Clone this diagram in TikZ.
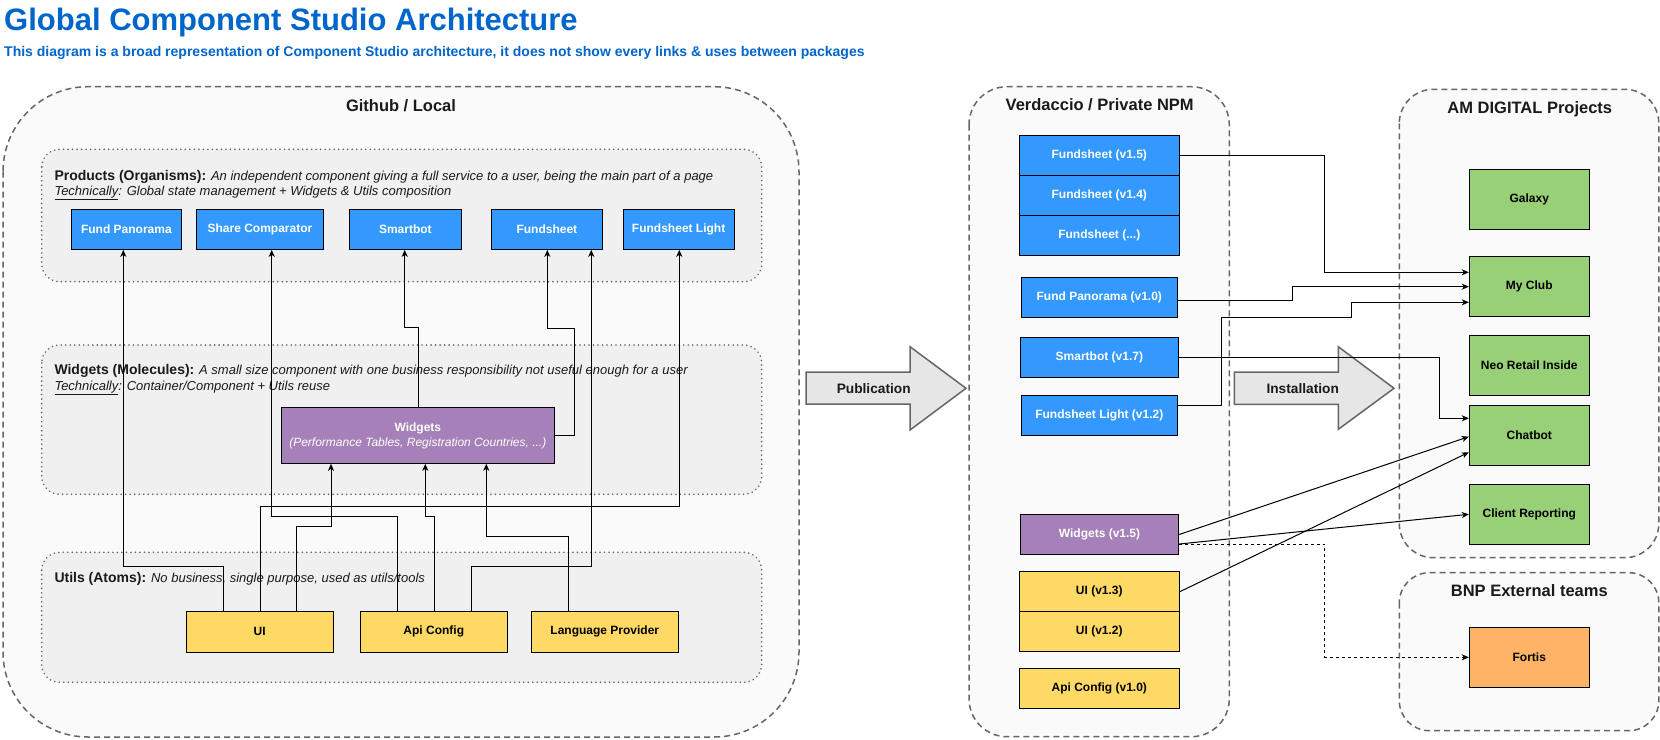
\documentclass[tikz,border=0pt]{standalone}
\usepackage{fontspec}
\setmainfont{Liberation Sans}
\usetikzlibrary{arrows.meta,calc}
\definecolor{ttl}{HTML}{0066CC}
\definecolor{bluef}{HTML}{3399FF}
\definecolor{purplef}{HTML}{A680B8}
\definecolor{yellowf}{HTML}{FFD966}
\definecolor{greenf}{HTML}{97D077}
\definecolor{orangef}{HTML}{FFB366}
\definecolor{panelf}{HTML}{F0F0F0}
\definecolor{contf}{HTML}{FAFAFA}
\definecolor{edgec}{HTML}{666666}
\definecolor{arrf}{HTML}{E6E6E6}
\definecolor{txt}{HTML}{1A1A1A}
\newcommand{\lhead}[1]{{\bfseries\fontsize{14}{15}\selectfont #1}}
\begin{document}
\begin{tikzpicture}[x=1pt,y=-1pt,
  container/.style={draw=edgec, fill=contf, line width=1.5pt, dash pattern=on 6pt off 4pt},
  panel/.style={draw=edgec, fill=panelf, line width=1.8pt, dash pattern=on 0.01pt off 4.5pt, line cap=round, rounded corners=18pt},
  box/.style={draw=black, line width=1pt, inner sep=0pt, align=center, font=\bfseries\fontsize{12}{15}\selectfont},
  bluebox/.style={box, fill=bluef, text=white},
  purplebox/.style={box, fill=purplef, text=white},
  yellowbox/.style={box, fill=yellowf, text=black},
  greenbox/.style={box, fill=greenf, text=black},
  orangebox/.style={box, fill=orangef, text=black},
  ctitle/.style={font=\bfseries\fontsize{16.5}{19}\selectfont, text=txt, anchor=base, inner sep=0pt},
  layert/.style={font=\fontsize{13}{15}\selectfont, text=txt, anchor=base west, inner sep=0pt},
  blockarrow/.style={draw=edgec, fill=arrf, line width=1.5pt, line join=miter},
  arrlabel/.style={font=\bfseries\fontsize{13.7}{16}\selectfont, text=txt, inner sep=0pt},
  conn/.style={draw=black, line width=1pt, -{Stealth[length=7pt,width=6pt,inset=2pt]}},
  dconn/.style={conn, dash pattern=on 3pt off 3pt}
]
\useasboundingbox (0,0) rectangle (1660,739);
\fill[white] (0,0) rectangle (1660,739);

% titles
\node[anchor=base west, inner sep=0pt, font=\bfseries\fontsize{31}{36}\selectfont, text=ttl] (title) at (4,30.7) {Global Component Studio Architecture};
\node[anchor=base west, inner sep=0pt, font=\bfseries\fontsize{14}{16}\selectfont, text=ttl] (subtitle) at (4,56.7) {This diagram is a broad representation of Component Studio architecture, it does not show every links \& uses between packages};

% containers
\draw[container, rounded corners=85pt] (3,86.7) rectangle (799,737);
\draw[container, rounded corners=38pt] (969,86.7) rectangle (1229.3,736.7);
\draw[container, rounded corners=34pt] (1399.3,89.3) rectangle (1658.8,557.7);
\draw[container, rounded corners=30pt] (1399.3,572.7) rectangle (1658.8,730.7);
\node[ctitle] (gh) at (401,111) {Github / Local};
\node[ctitle] (verd) at (1099.7,110.7) {Verdaccio / Private NPM};
\node[ctitle] (amd) at (1529.8,113.3) {AM DIGITAL Projects};
\node[ctitle] (bnp) at (1529.3,596.7) {BNP External teams};

% panels
\draw[panel] (41.7,149.3) rectangle (761.7,281.7);
\draw[panel] (41.7,345) rectangle (761.7,494.3);
\draw[panel] (41.7,552.3) rectangle (761.7,682.3);
\node[layert] (pt1) at (54.3,180) {\lhead{Products (Organisms):} \textit{An independent component giving a full service to a user, being the main part of a page}};
\node[layert] (pt2) at (54.3,195) {\itshape\underline{Technically}: Global state management + Widgets \& Utils composition};
\node[layert] (wt1) at (54.3,374) {\lhead{Widgets (Molecules):} \textit{A small size component with one business responsibility not useful enough for a user}};
\node[layert] (wt2) at (54.3,390) {\itshape\underline{Technically}: Container/Component + Utils reuse};
\node[layert] (ut1) at (54.3,582.3) {\lhead{Utils (Atoms):} \textit{No business, single purpose, used as utils/tools}};

% block arrows
\draw[blockarrow] (806,372) -- (910,372) -- (910,346.7) -- (966,388.3) -- (910,430) -- (910,404) -- (806,404) -- cycle;
\node[arrlabel] (pub) at (873.7,388.3) {Publication};
\draw[blockarrow] (1234.3,372) -- (1338.3,372) -- (1338.3,346.7) -- (1394,388.3) -- (1338.3,429.3) -- (1338.3,404.3) -- (1234.3,404.3) -- cycle;
\node[arrlabel] (inst) at (1302.7,388.3) {Installation};

% product boxes
\node[bluebox, minimum width=110.7pt, minimum height=40.3pt] (fp) at (126.35,229.2) {Fund Panorama};
\node[bluebox, minimum width=126.6pt, minimum height=40.3pt] (sc) at (260,229.2) {Share Comparator};
\node[bluebox, minimum width=112.7pt, minimum height=40.3pt] (sb) at (405.35,229.2) {Smartbot};
\node[bluebox, minimum width=111.7pt, minimum height=40.3pt] (fs) at (546.85,229.2) {Fundsheet};
\node[bluebox, minimum width=111.3pt, minimum height=40.3pt] (fsl) at (678.65,229.2) {Fundsheet Light};

% widgets
\node[purplebox, minimum width=273pt, minimum height=55.6pt] (wid) at (417.8,435.5) {Widgets\\\mdseries\itshape (Performance Tables, Registration Countries, ...)};

% utils
\node[yellowbox, minimum width=147.3pt, minimum height=40.3pt] (ui) at (259.65,631.85) {UI};
\node[yellowbox, minimum width=147pt, minimum height=40.3pt] (api) at (433.8,631.85) {Api Config};
\node[yellowbox, minimum width=147pt, minimum height=40.3pt] (lp) at (604.8,631.85) {Language Provider};

% verdaccio boxes
\node[bluebox, minimum width=160pt, minimum height=40pt] (v15) at (1099.3,155.7) {Fundsheet (v1.5)};
\node[bluebox, minimum width=160pt, minimum height=40pt] (v14) at (1099.3,195.7) {Fundsheet (v1.4)};
\node[bluebox, minimum width=160pt, minimum height=39.6pt] (vdd) at (1099.3,235.5) {Fundsheet (...)};
\node[bluebox, minimum width=156pt, minimum height=39.6pt] (fp10) at (1099.3,297.5) {Fund Panorama (v1.0)};
\node[bluebox, minimum width=157.3pt, minimum height=39.6pt] (sb17) at (1099.35,357.5) {Smartbot (v1.7)};
\node[bluebox, minimum width=156pt, minimum height=39.6pt] (fsl12) at (1099.3,415.5) {Fundsheet Light (v1.2)};
\node[purplebox, minimum width=158.4pt, minimum height=39.6pt] (w15) at (1099.5,534.5) {Widgets (v1.5)};
\node[yellowbox, minimum width=160pt, minimum height=40pt] (ui13) at (1099.3,591.7) {UI (v1.3)};
\node[yellowbox, minimum width=160pt, minimum height=39.6pt] (ui12) at (1099.3,631.5) {UI (v1.2)};
\node[yellowbox, minimum width=160pt, minimum height=40pt] (api10) at (1099.3,688.3) {Api Config (v1.0)};

% project boxes
\node[greenbox, minimum width=120pt, minimum height=60pt] (galaxy) at (1529.3,199.3) {Galaxy};
\node[greenbox, minimum width=120pt, minimum height=60pt] (myclub) at (1529.3,286.7) {My Club};
\node[greenbox, minimum width=120pt, minimum height=60pt] (neo) at (1529.3,365.3) {Neo Retail Inside};
\node[greenbox, minimum width=120pt, minimum height=60pt] (chatbot) at (1529.3,435.3) {Chatbot};
\node[greenbox, minimum width=120pt, minimum height=60pt] (client) at (1529.3,514.3) {Client Reporting};
\node[orangebox, minimum width=120pt, minimum height=60pt] (fortis) at (1529.3,657.3) {Fortis};

% left connectors
\draw[conn] ([xshift=-36.35pt]ui.north) -- ++(0,-44.4) -| ([xshift=-3.05pt]fp.south);
\draw[conn] ([xshift=0.65pt]ui.north) -- ++(0,-104.4) -| ([xshift=0.65pt]fsl.south);
\draw[conn] ([xshift=36.65pt]ui.north) -- ++(0,-84.4) -| ([xshift=-86.8pt]wid.south);
\draw[conn] ([xshift=-36.5pt]api.north) -- ++(0,-94.4) -| ([xshift=11.7pt]sc.south);
\draw[conn] ([xshift=0.5pt]api.north) -- ++(0,-94.4) -| ([xshift=7.5pt]wid.south);
\draw[conn] ([xshift=37.5pt]api.north) -- ++(0,-44.4) -| ([xshift=44.45pt]fs.south);
\draw[conn] ([xshift=-36.5pt]lp.north) -- ++(0,-74.4) -| ([xshift=68.5pt]wid.south);
\draw[conn] ([xshift=0.5pt]wid.north) -- ++(0,-79.4) -| ([xshift=-0.65pt]sb.south);
\draw[conn] (wid.east) -- ++(20,0) -- ++(0,-107.2) -| ([xshift=0.45pt]fs.south);

% right connectors
\draw[conn] (v15.east) -- ++(145,0) |- ([yshift=14.4pt]myclub.west);
\draw[conn] ([yshift=-2.8pt]fp10.east) -- ++(115,0) |- (myclub.west);
\draw[conn] ([yshift=10.5pt]fsl12.east) -- ++(44,0) -- ++(0,-87.7) -- ++(130,0) |- ([yshift=-15.6pt]myclub.west);
\draw[conn] (sb17.east) -- ++(261.3,0) |- ([yshift=17pt]chatbot.west);
\draw[conn] (w15.east) -- ([yshift=-1.4pt]chatbot.west);
\draw[conn] ([yshift=-9.5pt]w15.east) -- (client.west);
\draw[dconn] ([yshift=-9.5pt]w15.east) -- ++(145.6,0) |- (fortis.west);
\draw[conn] (ui13.east) -- ([yshift=-17pt]chatbot.west);
\end{tikzpicture}
\end{document}
